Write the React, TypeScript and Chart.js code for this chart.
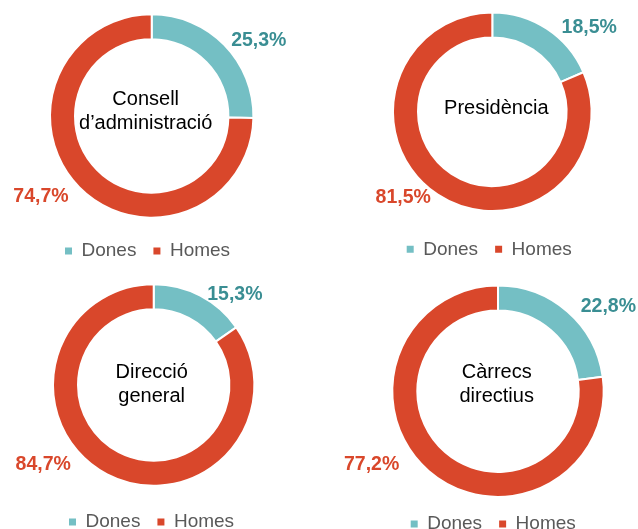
import React, { useEffect, useRef } from 'react';
import { Chart, registerables } from 'chart.js';

Chart.register(...registerables);

// ---- data ----
const categories = ['Dones', 'Homes'];
const panelTitles = [
  ['Consell', 'd’administració'],
  ['Presidència'],
  ['Direcció', 'general'],
  ['Càrrecs', 'directius'],
];
const donesValues = [25.3, 18.5, 15.3, 22.8];
const homesValues = [74.7, 81.5, 84.7, 77.2];

// ---- styles ----
const FONT = "'Liberation Sans', Arial, Helvetica, sans-serif";
const SLICE_COLORS = ['#74bfc4', '#d9472b'];
const LABEL_COLORS = ['#3a8e93', '#d9472b'];
const LEGEND_COLOR = '#595959';
const W = 638;
const H = 560;
const LEGEND_FONT = 19;
const LEGEND_PAD = 17;
const RING = 23;

// layout of each panel (centre, visible radius, legend start, title offset, label placement [angle shift deg, distance factor])
const panels = [
  { cx: 151.7, cy: 116, r: 100.7, legendX: 65, legendY: 251, textDx: -6, textDy: -4.5, labels: [[9.3, 1.288], [8.3, 1.349]] },
  { cx: 492.3, cy: 111.7, r: 98.3, legendX: 406.7, legendY: 249.3, textDx: 4, textDy: -3, labels: [[15.8, 1.291], [12.6, 1.249]] },
  { cx: 153.7, cy: 385, r: 99.7, legendX: 69, legendY: 522, textDx: -2, textDy: -1, labels: [[14.5, 1.204], [26.6, 1.354]] },
  { cx: 498, cy: 391.2, r: 104.7, legendX: 410.7, legendY: 524, textDx: -1.3, textDy: -7.2, labels: [[11.5, 1.315], [18.7, 1.384]] },
];

const fmt = (v: number) => v.toFixed(1).replace('.', ',') + '%';

const arcLabels = {
  id: 'arcLabels',
  afterDatasetsDraw(chart: any, _args: any, opts: any) {
    const meta = chart.getDatasetMeta(0);
    const values = chart.data.datasets[0].data;
    const ctx = chart.ctx;
    ctx.save();
    ctx.font = `bold ${opts.size}px ${FONT}`;
    ctx.textAlign = 'center';
    ctx.textBaseline = 'middle';
    meta.data.forEach((arc: any, i: number) => {
      const p = arc.getProps(['x', 'y', 'startAngle', 'endAngle', 'outerRadius'], true);
      const [shift, f] = opts.placement[i];
      const a = (p.startAngle + p.endAngle) / 2 + (shift * Math.PI) / 180;
      const d = p.outerRadius * f;
      ctx.fillStyle = opts.colors[i];
      ctx.fillText(fmt(values[i]), p.x + d * Math.cos(a), p.y + d * Math.sin(a));
    });
    ctx.restore();
  },
};

const centerText = {
  id: 'centerText',
  afterDatasetsDraw(chart: any, _args: any, opts: any) {
    const meta = chart.getDatasetMeta(0);
    const arc = meta.data[0];
    if (!arc) return;
    const { x, y } = arc.getProps(['x', 'y'], true);
    const ctx = chart.ctx;
    ctx.save();
    ctx.font = `${opts.size}px ${FONT}`;
    ctx.fillStyle = opts.color;
    ctx.textAlign = 'center';
    ctx.textBaseline = 'middle';
    const lines: string[] = opts.lines;
    const n = lines.length;
    lines.forEach((line, i) => {
      ctx.fillText(line, x + opts.dx, y + opts.dy + (i - (n - 1) / 2) * opts.lineHeight);
    });
    ctx.restore();
  },
};

function Panel({ index }: { index: number }) {
  const ref = useRef<HTMLCanvasElement | null>(null);
  useEffect(() => {
    if (!ref.current) return;
    const p = panels[index];
    const pl = p.legendX - LEGEND_PAD;
    const pr = pl + W - 2 * p.cx;
    const itemH = LEGEND_FONT;
    const legendH = itemH + LEGEND_PAD + 10;
    const pb = H - p.legendY - 10 - itemH / 2;
    const bottom = H - pb - legendH;
    const pt = 2 * p.cy - bottom;
    const outer = p.r + 1;
    const inner = p.r - RING - 1;
    const chart = new Chart(ref.current, {
      type: 'doughnut',
      data: {
        labels: categories,
        datasets: [
          {
            data: [donesValues[index], homesValues[index]],
            backgroundColor: SLICE_COLORS,
            borderColor: '#ffffff',
            borderWidth: 2,
            clip: false,
          } as any,
        ],
      },
      options: {
        responsive: false,
        animation: false,
        events: [],
        radius: outer,
        cutout: (inner / outer) * 100 + '%',
        layout: { padding: { left: pl, right: pr, top: pt, bottom: pb } },
        plugins: {
          legend: {
            position: 'bottom',
            align: 'start',
            labels: {
              boxWidth: 7,
              boxHeight: 7,
              padding: LEGEND_PAD,
              color: LEGEND_COLOR,
              font: { family: FONT, size: LEGEND_FONT },
              generateLabels: (c: any) => {
                const base = (Chart as any).overrides.doughnut.plugins.legend.labels.generateLabels(c);
                return base.map((it: any) => ({ ...it, lineWidth: 0, strokeStyle: 'rgba(0,0,0,0)' }));
              },
            },
          },
          tooltip: { enabled: false },
          arcLabels: { size: 19.5, colors: LABEL_COLORS, placement: p.labels },
          centerText: { size: 20, color: '#000000', lines: panelTitles[index], dx: p.textDx, dy: p.textDy, lineHeight: 24 },
        } as any,
      },
      plugins: [arcLabels, centerText],
    });
    return () => chart.destroy();
  }, [index]);
  return (
    <canvas
      ref={ref}
      width={W}
      height={H}
      style={{ position: 'absolute', left: 0, top: 0, width: W, height: H }}
    />
  );
}

export default function App() {
  return (
    <div
      style={{
        position: 'fixed',
        left: 0,
        top: 0,
        width: 638,
        height: 529,
        overflow: 'hidden',
        background: '#ffffff',
      }}
    >
      {panels.map((_, i) => (
        <Panel key={i} index={i} />
      ))}
    </div>
  );
}
